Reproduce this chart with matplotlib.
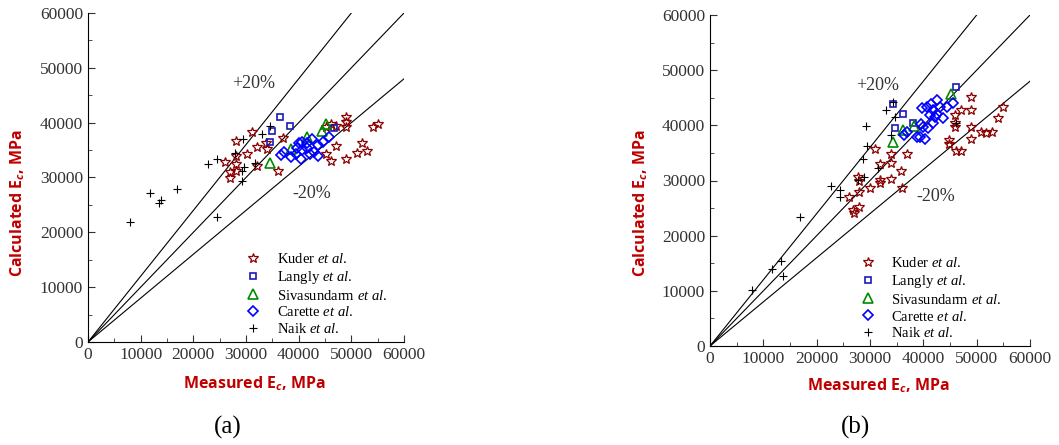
import numpy as np
import matplotlib.pyplot as plt
from matplotlib.ticker import MultipleLocator

plt.rcParams['font.family'] = ['Liberation Serif', 'DejaVu Serif']
plt.rcParams['mathtext.fontset'] = 'custom'
plt.rcParams['mathtext.rm'] = 'Liberation Serif'
plt.rcParams['mathtext.it'] = 'Liberation Serif:italic'
plt.rcParams['mathtext.bf'] = 'Open Sans:bold:italic'

# panel (a)
kuder_a_x = [28040, 31080, 33860, 32030, 34050, 37030, 30130, 28040, 26080, 28100, 27030, 28100, 27030,
             32030, 36080, 45130, 46200, 47090, 49050, 49050, 49050, 49050, 46200, 47090, 51140, 52090,
             53040, 54180, 55130, 45130]
kuder_a_y = [36720, 38370, 36360, 35630, 35200, 37150, 34290, 33920, 32820, 32460, 31060, 31120, 29840,
             32160, 31250, 34290, 32950, 35810, 33440, 41110, 40200, 39280, 39770, 39400, 34530, 36240,
             34840, 39280, 39770, 39280]
langly_a_x = [36390, 38350, 34870, 34490, 46710]
langly_a_y = [40990, 39400, 38490, 36540, 39040]
siva_a_x = [34490, 38610, 45250, 44490, 41650]
siva_a_y = [32700, 35140, 39770, 38490, 37330]
carette_a_x = [36580, 37220, 38610, 40380, 39750, 40060, 40700, 41520, 42590, 43670, 42910, 42150, 43670,
               44620, 45760, 40700, 41650, 39430]
carette_a_y = [34040, 34590, 33800, 33310, 35320, 36360, 36540, 36360, 36970, 35930, 34710, 34290, 33980,
               36540, 37450, 35020, 35320, 34290]
naik_a_x = [7910, 11770, 13480, 13920, 16960, 22780, 24560, 24560, 27850, 29430, 29620, 29180, 29180,
            31650, 33100, 34560]
naik_a_y = [21800, 27100, 25400, 25880, 27890, 32460, 33310, 22840, 34530, 37090, 31850, 31240, 29290,
            32580, 37880, 39400]

# panel (b)
kuder_b_x = [26000, 26880, 27000, 27880, 27750, 27940, 28000, 30000, 30940, 31880, 31940, 31940, 33940,
             33940, 33940, 35880, 35940, 37000, 44880, 44880, 45940, 45940, 45940, 46060, 47060, 47060,
             48940, 48940, 48940, 48940, 50810, 51750, 52940, 53940, 54880]
kuder_b_y = [27040, 24620, 24140, 25230, 30670, 29820, 27950, 28680, 35630, 32910, 30070, 29460, 34720,
             33210, 30250, 31760, 28680, 34780, 37330, 36600, 41860, 40350, 39750, 35330, 35330, 42770,
             45070, 42770, 39620, 37450, 38840, 38540, 38840, 41260, 43380]
langly_b_x = [34250, 36130, 34690, 38000, 46130]
langly_b_y = [43860, 42040, 39440, 40350, 46880]
siva_b_x = [34250, 36250, 38250, 45130]
siva_b_y = [36900, 39140, 39870, 45610]
carette_b_x = [36380, 37000, 38750, 39380, 40310, 39690, 40630, 41380, 42500, 41880, 41250, 42190, 43630,
               44500, 45500, 43130, 40000, 39500, 40940, 41880, 42500]
carette_b_y = [38230, 38840, 37930, 37810, 37450, 43070, 43380, 43860, 44590, 42770, 41860, 41440, 41260,
               43250, 44100, 43380, 39750, 40230, 39440, 40350, 42040]
naik_b_x = [7810, 11560, 13310, 13750, 16880, 22690, 24380, 24380, 27690, 28750, 28940, 29190, 29380,
            31440, 33000, 33940, 34690, 34250, 46130]
naik_b_y = [10100, 14040, 15430, 12700, 23410, 28980, 28250, 27040, 30070, 33820, 30670, 39870, 36300,
            32300, 42770, 38230, 41440, 44280, 40350]

labels = [r'Kuder $et$ $al.$', r'Langly $et$ $al.$', r'Sivasundarm $et$ $al.$',
          r'Carette $et$ $al.$', r'Naik $et$ $al.$']

red = '#C00000'
W, H = 1059, 445
fig = plt.figure(figsize=(10.59, 4.45), dpi=100)
ax_a = fig.add_axes([88/W, 1-342/H, 316/W, 329/H])
ax_b = fig.add_axes([710/W, 1-346/H, 320/W, 331/H])

panels = [
    (ax_a, kuder_a_x, kuder_a_y, langly_a_x, langly_a_y, siva_a_x, siva_a_y, carette_a_x, carette_a_y,
     naik_a_x, naik_a_y, '(a)', (0.445, -0.014), (254, 384), (18, 203), (228, 427)),
    (ax_b, kuder_b_x, kuder_b_y, langly_b_x, langly_b_y, siva_b_x, siva_b_y, carette_b_x, carette_b_y,
     naik_b_x, naik_b_y, '(b)', (0.415, -0.014), (878, 386), (641, 203), (855, 427)),
]

xs = np.array([0, 60000])
for ax, kx, ky, lx, ly, sx, sy, cx, cy, nx, ny, tag, anchor, xl, yl, tp in panels:
    for k in [1.2, 1.0, 0.8]:
        ax.plot(xs, k * xs, color='black', lw=0.8)
    ax.plot(kx, ky, ls='none', marker='*', ms=7.5, mfc='none', mec='#8B0000', mew=0.9, label=labels[0])
    ax.plot(lx, ly, ls='none', marker='s', ms=5, mfc='none', mec='#1A1AB4', mew=1.2, label=labels[1])
    ax.plot(sx, sy, ls='none', marker='^', ms=6.5, mfc='none', mec='#008A00', mew=1.2, label=labels[2])
    ax.plot(cx, cy, ls='none', marker='D', ms=5.5, mfc='none', mec='#0000FF', mew=1.2, label=labels[3])
    ax.plot(nx, ny, ls='none', marker='+', ms=6, color='black', mew=0.8, label=labels[4])

    ax.set_xlim(0, 60000)
    ax.set_ylim(0, 60000)
    ax.spines['top'].set_visible(False)
    ax.spines['right'].set_visible(False)
    ax.xaxis.set_major_locator(MultipleLocator(10000))
    ax.xaxis.set_minor_locator(MultipleLocator(5000))
    ax.yaxis.set_major_locator(MultipleLocator(10000))
    ax.yaxis.set_minor_locator(MultipleLocator(5000))
    ax.tick_params(which='both', direction='in', labelsize=12.5, colors='#333333')
    ax.tick_params(which='major', length=5)
    ax.tick_params(which='minor', length=3)

    ax.text(31500, 47200, '+20%', fontsize=13, ha='center', va='center', color='#333333')
    ax.text(42400, 27100, '-20%', fontsize=13, ha='center', va='center', color='#333333')

    fig.text(xl[0]/W, 1-xl[1]/H, r'Measured E$_{\mathbf{c}}$, MPa', fontfamily='Open Sans',
             fontweight='bold', fontsize=11.5, color=red, ha='center', va='center')
    fig.text(yl[0]/W, 1-yl[1]/H, r'Calculated E$_{\mathbf{c}}$, MPa', fontfamily='Open Sans',
             fontweight='bold', fontsize=11.5, color=red, ha='center', va='center', rotation=90)
    fig.text(tp[0]/W, 1-tp[1]/H, tag, fontsize=18, ha='center', va='center')

    ax.legend(loc='lower left', bbox_to_anchor=anchor, frameon=False, fontsize=10.5,
              handletextpad=0.6, labelspacing=0.2, borderpad=0.2)

fig.savefig('out.png', dpi=100)
